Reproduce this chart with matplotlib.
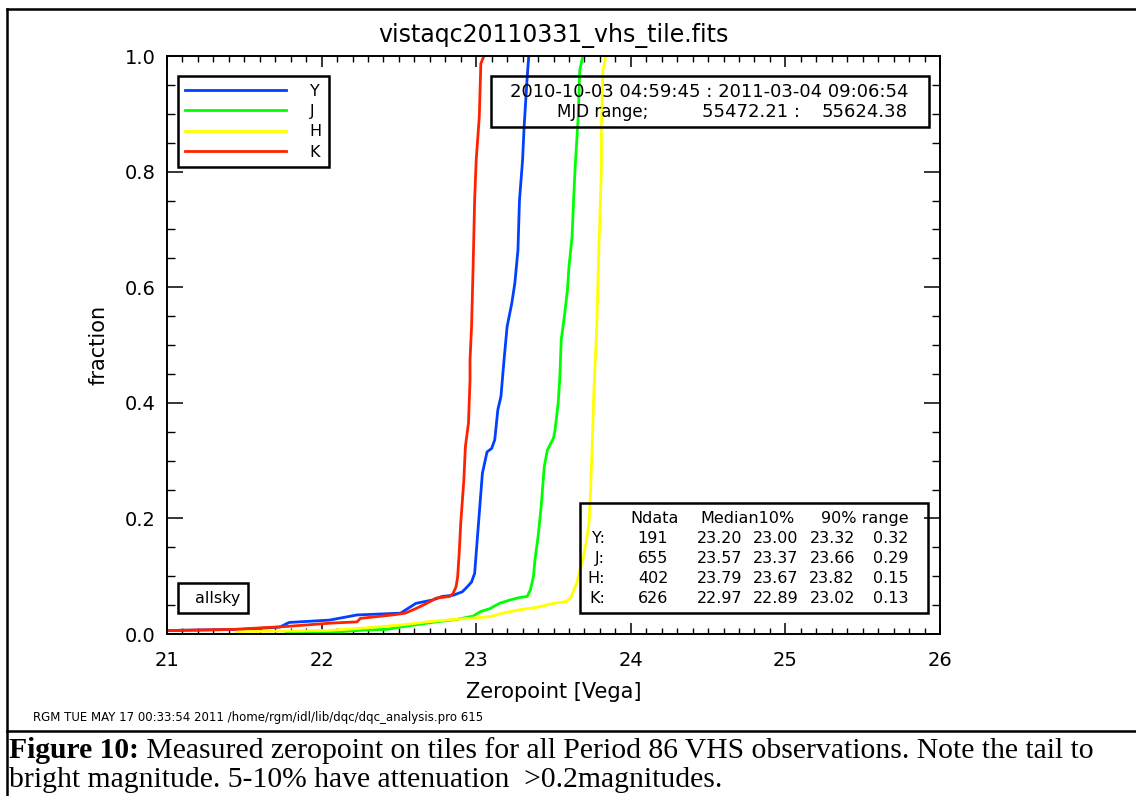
import matplotlib
matplotlib.use('Agg')
import matplotlib.pyplot as plt
from matplotlib.lines import Line2D
from matplotlib.patches import Rectangle
from matplotlib.ticker import MultipleLocator, FormatStrFormatter

# ---------------- data ----------------
bands = ['Y', 'J', 'H', 'K']
band_colors = ['#0040ff', '#00ff00', '#ffff00', '#ff2200']

zp_Y = [21.00, 21.49, 21.73, 21.79, 22.05, 22.23, 22.51, 22.61, 22.72, 22.78, 22.85,
        22.91, 22.94, 22.97, 22.99, 23.00, 23.02, 23.04, 23.07, 23.10, 23.12, 23.14,
        23.16, 23.18, 23.20, 23.23, 23.25, 23.27, 23.28, 23.30, 23.31, 23.33, 23.34]
frac_Y = [0.006, 0.008, 0.012, 0.020, 0.024, 0.033, 0.036, 0.053, 0.059, 0.065, 0.067,
          0.073, 0.081, 0.090, 0.105, 0.140, 0.209, 0.278, 0.315, 0.321, 0.336, 0.388,
          0.411, 0.474, 0.532, 0.572, 0.607, 0.664, 0.751, 0.820, 0.878, 0.964, 1.000]

zp_J = [21.77, 22.12, 22.29, 22.42, 22.51, 22.61, 22.74, 22.87, 22.98, 23.03, 23.09,
        23.15, 23.22, 23.28, 23.33, 23.35, 23.37, 23.38, 23.40, 23.42, 23.44, 23.46,
        23.50, 23.51, 23.53, 23.54, 23.55, 23.57, 23.59, 23.60, 23.62, 23.63, 23.64,
        23.66, 23.67, 23.69]
frac_J = [0.002, 0.004, 0.007, 0.008, 0.012, 0.016, 0.021, 0.025, 0.031, 0.039, 0.044,
          0.053, 0.059, 0.063, 0.065, 0.076, 0.099, 0.128, 0.168, 0.220, 0.289, 0.318,
          0.339, 0.353, 0.399, 0.439, 0.509, 0.549, 0.595, 0.635, 0.687, 0.751, 0.808,
          0.895, 0.976, 1.000]

zp_H = [21.45, 22.03, 22.16, 22.35, 22.53, 22.68, 22.85, 23.00, 23.09, 23.17, 23.28,
        23.39, 23.50, 23.58, 23.61, 23.65, 23.67, 23.69, 23.71, 23.73, 23.74, 23.75,
        23.76, 23.78, 23.79, 23.80, 23.81, 23.81, 23.82, 23.84]
frac_H = [0.004, 0.006, 0.008, 0.012, 0.016, 0.021, 0.025, 0.028, 0.030, 0.036, 0.042,
          0.046, 0.053, 0.056, 0.062, 0.088, 0.111, 0.128, 0.157, 0.192, 0.249, 0.324,
          0.411, 0.532, 0.635, 0.722, 0.808, 0.878, 0.976, 1.000]

zp_K = [21.00, 21.43, 21.77, 22.07, 22.23, 22.25, 22.46, 22.54, 22.61, 22.68, 22.74,
        22.83, 22.85, 22.87, 22.88, 22.89, 22.90, 22.92, 22.93, 22.95, 22.96, 22.96,
        22.97, 22.98, 22.99, 23.00, 23.02, 23.03, 23.05]
frac_K = [0.006, 0.008, 0.013, 0.019, 0.021, 0.027, 0.033, 0.036, 0.044, 0.053, 0.062,
          0.065, 0.070, 0.082, 0.099, 0.140, 0.192, 0.266, 0.324, 0.365, 0.439, 0.474,
          0.532, 0.635, 0.751, 0.820, 0.895, 0.987, 1.000]

ndata = [191, 655, 402, 626]
median = ['23.20', '23.57', '23.79', '22.97']
pct10 = ['23.00', '23.37', '23.67', '22.89']
pct90 = ['23.32', '23.66', '23.82', '23.02']
zp_range = ['0.32', '0.29', '0.15', '0.13']

x_ticks = [21, 22, 23, 24, 25, 26]
y_ticks = [0.0, 0.2, 0.4, 0.6, 0.8, 1.0]

title_text = 'vistaqc20110331_vhs_tile.fits'
date_line1 = '2010-10-03 04:59:45 : 2011-03-04 09:06:54'
mjd_label = 'MJD range;'
mjd_start = '55472.21'
mjd_end = '55624.38'
footnote = 'RGM TUE MAY 17 00:33:54 2011 /home/rgm/idl/lib/dqc/dqc_analysis.pro 615'
cap_bold = 'Figure 10:'
cap_rest1 = ' Measured zeropoint on tiles for all Period 86 VHS observations. Note the tail to'
cap_line2 = 'bright magnitude. 5-10% have attenuation  >0.2magnitudes.'

# ---------------- figure ----------------
W, H = 1136, 796
fig = plt.figure(figsize=(W / 100, H / 100), dpi=100)
fig.patch.set_facecolor('white')

def fx(px):
    return px / W

def fy(py):
    return 1 - py / H

ax = fig.add_axes([fx(167), fy(634), fx(940) - fx(167), fy(56) - fy(634)])
ax.set_xlim(21, 26)
ax.set_ylim(0, 1)

series = [(zp_Y, frac_Y), (zp_J, frac_J), (zp_H, frac_H), (zp_K, frac_K)]
handles = []
for (zx, fr), b, c in zip(series, bands, band_colors):
    h, = ax.plot(zx, fr, color=c, lw=2.0, clip_on=True)
    handles.append(h)

ax.set_xticks(x_ticks)
ax.set_yticks(y_ticks)
ax.xaxis.set_minor_locator(MultipleLocator(0.1))
ax.yaxis.set_minor_locator(MultipleLocator(0.05))
ax.yaxis.set_major_formatter(FormatStrFormatter('%.1f'))
ax.tick_params(axis='x', which='major', direction='in', length=8, width=1.1,
               top=True, bottom=True, labelsize=14, pad=12)
ax.tick_params(axis='x', which='minor', direction='in', length=4, width=1.0,
               top=True, bottom=True)
ax.tick_params(axis='y', which='major', direction='in', length=11.5, width=1.1,
               left=True, right=True, labelsize=14, pad=8)
ax.tick_params(axis='y', which='minor', direction='in', length=5.7, width=1.0,
               left=True, right=True)
for s in ax.spines.values():
    s.set_linewidth(1.4)

ax.set_title(title_text, fontsize=17, pad=10)
ax.set_xlabel('Zeropoint [Vega]', fontsize=15, labelpad=9)
ax.set_ylabel('fraction', fontsize=15, labelpad=12)

# legend
leg = ax.legend(handles, bands, loc='upper left', bbox_to_anchor=(0.0138, 0.9654),
                borderaxespad=0, fancybox=False, framealpha=1, edgecolor='black',
                fontsize=11.5, handlelength=6.3, handletextpad=1.5, labelspacing=0.34,
                borderpad=0.47)
leg.get_frame().set_linewidth(1.8)

def ax_x(px):
    return (px - 167) / 773.0

def ax_y(py):
    return (634 - py) / 578.0

dfs = 13
# date box
ax.add_patch(Rectangle((ax_x(490.7), ax_y(126.7)), ax_x(929) - ax_x(490.7),
                       ax_y(75.7) - ax_y(126.7), transform=ax.transAxes,
                       facecolor='none', edgecolor='black', lw=1.8, zorder=5))
ax.text(ax_x(908), ax_y(92.3), date_line1, transform=ax.transAxes, ha='right',
        va='center', fontsize=dfs, zorder=6)
ax.text(ax_x(648), ax_y(111.7), mjd_label, transform=ax.transAxes, ha='right',
        va='center', fontsize=12, zorder=6)
ax.text(ax_x(800), ax_y(111.7), mjd_start + ' :', transform=ax.transAxes, ha='right',
        va='center', fontsize=dfs, zorder=6)
ax.text(ax_x(908), ax_y(111.7), mjd_end, transform=ax.transAxes, ha='right',
        va='center', fontsize=dfs, zorder=6)

# stats box
ax.add_patch(Rectangle((ax_x(580), ax_y(613.3)), ax_x(928.3) - ax_x(580),
                       ax_y(502.7) - ax_y(613.3), transform=ax.transAxes,
                       facecolor='none', edgecolor='black', lw=1.8, zorder=5))
row_py = [538.3, 558.3, 578.3, 598.3]
sfs = 11.5
ax.text(ax_x(678.3), ax_y(518.3), 'Ndata', transform=ax.transAxes, ha='right', va='center', fontsize=sfs)
ax.text(ax_x(795), ax_y(518.3), 'Median10%', transform=ax.transAxes, ha='right', va='center', fontsize=sfs)
ax.text(ax_x(908.3), ax_y(518.3), '90% range', transform=ax.transAxes, ha='right', va='center', fontsize=sfs)
for i, b in enumerate(bands):
    yy = ax_y(row_py[i])
    ax.text(ax_x(605), yy, b + ':', transform=ax.transAxes, ha='right', va='center', fontsize=sfs)
    ax.text(ax_x(668.3), yy, str(ndata[i]), transform=ax.transAxes, ha='right', va='center', fontsize=sfs)
    ax.text(ax_x(742.7), yy, median[i], transform=ax.transAxes, ha='right', va='center', fontsize=sfs)
    ax.text(ax_x(798.3), yy, pct10[i], transform=ax.transAxes, ha='right', va='center', fontsize=sfs)
    ax.text(ax_x(855), yy, pct90[i], transform=ax.transAxes, ha='right', va='center', fontsize=sfs)
    ax.text(ax_x(908.3), yy, zp_range[i], transform=ax.transAxes, ha='right', va='center', fontsize=sfs)

# allsky box
ax.add_patch(Rectangle((ax_x(177.7), ax_y(612.7)), ax_x(248.3) - ax_x(177.7),
                       ax_y(582.7) - ax_y(612.7), transform=ax.transAxes,
                       facecolor='none', edgecolor='black', lw=1.8, zorder=5))
ax.text(ax_x(240.7), ax_y(598), 'allsky', transform=ax.transAxes, ha='right',
        va='center', fontsize=11.5)

# footnote
fig.text(fx(33), fy(717), footnote, fontsize=8.5, va='center', ha='left')

# outer frame / separator
lw_frame = 1.8
fig.add_artist(Line2D([fx(6.5), fx(6.5)], [fy(9), fy(796)], color='black', lw=lw_frame))
fig.add_artist(Line2D([fx(6.5), 1.0], [fy(9), fy(9)], color='black', lw=lw_frame))
fig.add_artist(Line2D([fx(6.5), 1.0], [fy(731), fy(731)], color='black', lw=lw_frame))

# caption
cap_fam = 'Liberation Serif'
fs = 19
tb = fig.text(fx(9), fy(758), cap_bold, fontsize=fs, fontweight='bold', family=cap_fam, va='baseline')
tr = fig.text(fx(9), fy(758), cap_rest1, fontsize=fs, family=cap_fam, va='baseline')
t2 = fig.text(fx(9), fy(787), cap_line2, fontsize=fs, family=cap_fam, va='baseline')
fig.canvas.draw()
r = fig.canvas.get_renderer()
wb = tb.get_window_extent(r).width
wr = tr.get_window_extent(r).width
fs2 = fs * (1086.0 / (wb + wr))
for t in (tb, tr, t2):
    t.set_fontsize(fs2)
fig.canvas.draw()
wb = tb.get_window_extent(r).width
tr.set_x(fx(9) + wb / W)

fig.savefig('out.png', dpi=100, facecolor='white')
